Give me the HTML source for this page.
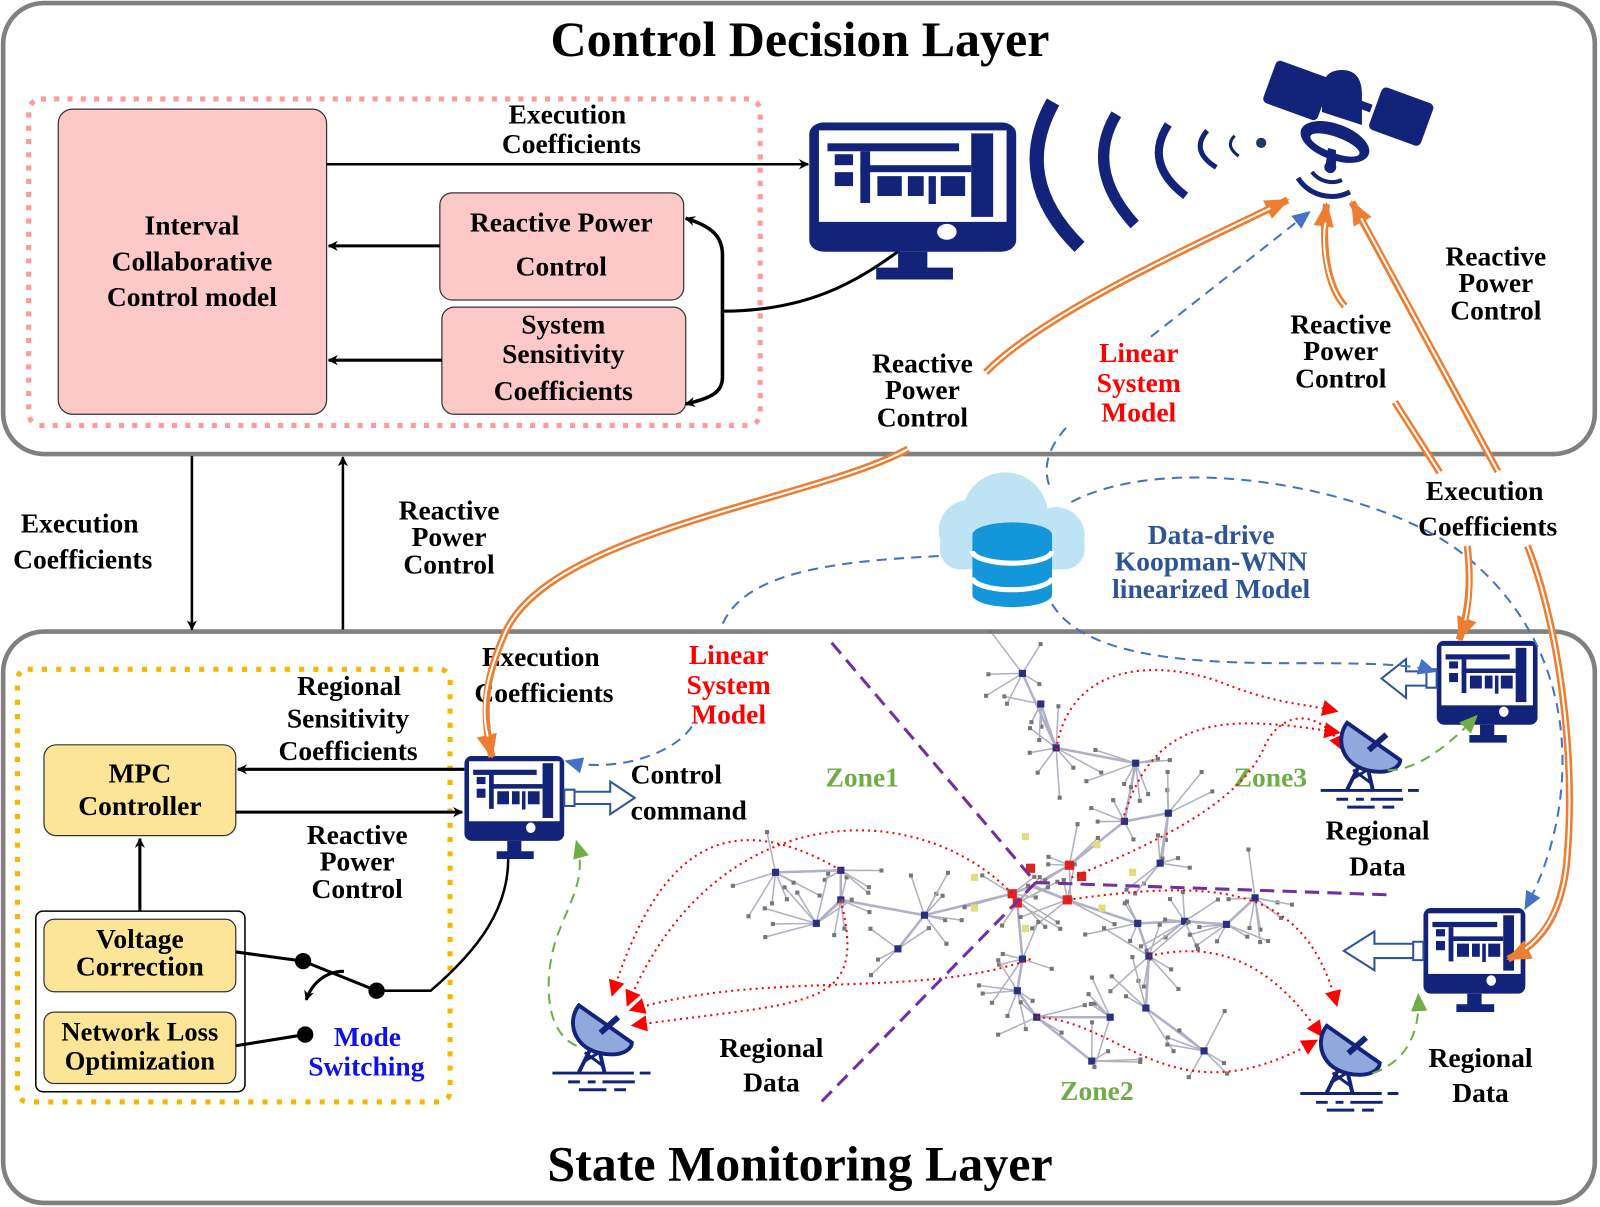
<!DOCTYPE html>
<html><head><meta charset="utf-8"><style>
html,body{margin:0;padding:0;background:#fff;}
svg{display:block;}
text{font-family:"Liberation Serif",serif;font-weight:bold;}
</style></head><body>
<svg id="s" width="1600" height="1207" viewBox="0 0 1568 1183" xmlns="http://www.w3.org/2000/svg">
<defs>
<marker id="ak" markerWidth="10" markerHeight="10" refX="9" refY="5" orient="auto-start-reverse" markerUnits="userSpaceOnUse" viewBox="0 0 10 10"><path d="M0,0 L10,5 L0,10 L3,5 z" fill="#000"/></marker>
<marker id="ao" markerWidth="24" markerHeight="24" refX="22" refY="12" orient="auto-start-reverse" markerUnits="userSpaceOnUse" viewBox="0 0 24 24"><path d="M0,2 L24,12 L0,22 z" fill="#ed7d31"/></marker>
<marker id="ab" markerWidth="18" markerHeight="18" refX="16" refY="9" orient="auto" markerUnits="userSpaceOnUse" viewBox="0 0 18 18"><path d="M0,1 L18,9 L0,17 z" fill="#4472c4"/></marker>
<marker id="ag" markerWidth="18" markerHeight="18" refX="16" refY="9" orient="auto" markerUnits="userSpaceOnUse" viewBox="0 0 18 18"><path d="M0,1 L18,9 L0,17 z" fill="#70ad47"/></marker>
<marker id="ar" markerWidth="16" markerHeight="16" refX="14" refY="8" orient="auto" markerUnits="userSpaceOnUse" viewBox="0 0 16 16"><path d="M0,0 L16,8 L0,16 z" fill="#f00"/></marker>
<symbol id="mon" viewBox="0 0 170 158" preserveAspectRatio="none">
<rect x="0" y="0" width="170" height="130" rx="12" fill="#14237a"/>
<rect x="8" y="8" width="154" height="92" fill="#fff"/>
<rect x="15" y="21" width="108" height="8" fill="#14237a"/>
<rect x="133" y="11" width="18" height="84" fill="#14237a"/>
<rect x="21" y="32" width="15" height="11" fill="#14237a"/>
<rect x="21" y="50" width="15" height="14" fill="#14237a"/>
<rect x="42" y="29" width="8" height="52" fill="#14237a"/>
<rect x="42" y="43" width="91" height="7" fill="#14237a"/>
<rect x="56" y="54" width="20" height="20" fill="#14237a"/>
<rect x="81" y="54" width="13" height="20" fill="#14237a"/>
<rect x="98" y="54" width="6" height="28" fill="#14237a"/>
<rect x="108" y="54" width="20" height="20" fill="#14237a"/>
<circle cx="113" cy="110" r="8" fill="#fff"/>
<rect x="73" y="130" width="24" height="18" fill="#14237a"/>
<rect x="55" y="146" width="63" height="12" fill="#14237a"/>
</symbol>
<symbol id="ant" viewBox="0 0 130 130">
<line x1="58" y1="82" x2="44" y2="110" stroke="#14237a" stroke-width="4"/>
<line x1="64" y1="84" x2="70" y2="110" stroke="#14237a" stroke-width="4"/>
<line x1="48" y1="100" x2="68" y2="88" stroke="#14237a" stroke-width="3"/>
<line x1="50" y1="90" x2="69" y2="104" stroke="#14237a" stroke-width="3"/>
<path d="M44,42 C30,60 40,92 78,92 C90,92 98,86 98,80 Z" fill="#8fa9dc" stroke="#14237a" stroke-width="4"/>
<line x1="44" y1="42" x2="98" y2="80" stroke="#14237a" stroke-width="3"/>
<line x1="66" y1="70" x2="84" y2="54" stroke="#14237a" stroke-width="6"/>
<line x1="17" y1="111" x2="100" y2="111" stroke="#14237a" stroke-width="3"/>
<line x1="106" y1="111" x2="117" y2="111" stroke="#14237a" stroke-width="3"/>
<path d="M33,120 h12 M53,120 h8 M68,120 h33" stroke="#14237a" stroke-width="3"/>
<path d="M44,128 h28 M80,128 h12" stroke="#14237a" stroke-width="3"/>
</symbol>
</defs>

<rect x="3" y="3" width="1560" height="442" rx="40" fill="none" stroke="#808080" stroke-width="4.5"/>
<rect x="3" y="619" width="1560" height="560" rx="40" fill="none" stroke="#808080" stroke-width="4.5"/>
<text x="784" y="55" font-size="49" text-anchor="middle">Control Decision Layer</text>
<text x="784" y="1157" font-size="49" text-anchor="middle">State Monitoring Layer</text>

<rect x="28" y="97" width="717" height="320" rx="12" fill="none" stroke="#ff9a9a" stroke-width="5" stroke-dasharray="5 8"/>
<rect x="57" y="107" width="263" height="299" rx="14" fill="#fcc8c8" stroke="#333" stroke-width="1.2"/>
<text font-size="27" text-anchor="middle"><tspan x="188" y="230">Interval</tspan><tspan x="188" y="265">Collaborative</tspan><tspan x="188" y="300">Control model</tspan></text>
<rect x="431" y="189" width="239" height="105" rx="12" fill="#fcc8c8" stroke="#333" stroke-width="1.2"/>
<text font-size="27" text-anchor="middle"><tspan x="550" y="227">Reactive Power</tspan><tspan x="550" y="270">Control</tspan></text>
<rect x="433" y="301" width="239" height="105" rx="12" fill="#fcc8c8" stroke="#333" stroke-width="1.2"/>
<text font-size="27" text-anchor="middle"><tspan x="552" y="327">System</tspan><tspan x="552" y="356">Sensitivity</tspan><tspan x="552" y="392">Coefficients</tspan></text>
<line x1="320" y1="161" x2="792" y2="161" stroke="#000" stroke-width="2.5" marker-end="url(#ak)"/>
<text font-size="27" text-anchor="middle"><tspan x="556" y="121">Execution</tspan><tspan x="560" y="150">Coefficients</tspan></text>
<line x1="431" y1="241" x2="322" y2="241" stroke="#000" stroke-width="3" marker-end="url(#ak)"/>
<line x1="433" y1="353" x2="322" y2="353" stroke="#000" stroke-width="3" marker-end="url(#ak)"/>
<path d="M672,214 C698,222 708,232 708,250 L708,370 C708,384 698,390 672,396" fill="none" stroke="#000" stroke-width="3.5" marker-start="url(#ak)" marker-end="url(#ak)"/>
<path d="M708,305 C800,305 850,270 898,233" fill="none" stroke="#000" stroke-width="3"/>

<use href="#mon" x="793" y="120" width="203" height="154"/>
<g fill="none" stroke="#14237a">
<path d="M1032,100 Q990,175 1058,242" stroke-width="14"/>
<path d="M1094,112 Q1062,165 1112,220" stroke-width="11"/>
<path d="M1145,122 Q1120,160 1162,192" stroke-width="8"/>
<path d="M1183,128 Q1166,148 1192,164" stroke-width="5"/>
<path d="M1210,133 Q1200,143 1214,153" stroke-width="3"/>
</g>
<circle cx="1236" cy="140" r="5" fill="#1f3864"/>
<g transform="scale(0.98)" fill="#14237a">
<rect x="1268" y="68" width="58" height="45" rx="5" transform="rotate(20 1297 90)"/>
<rect x="1374" y="94" width="55" height="45" rx="5" transform="rotate(20 1401 116)"/>
<path d="M1322,92 C1322,72 1335,70 1342,70 C1358,70 1362,82 1362,95 L1362,125 L1322,112 Z"/>
<rect x="1318" y="95" width="55" height="8" transform="rotate(20 1345 99)"/>
<ellipse cx="1335" cy="142" rx="36" ry="18" transform="rotate(20 1335 142)"/>
<ellipse cx="1335" cy="145" rx="26" ry="8" transform="rotate(20 1335 145)" fill="#fff"/>
<path d="M1328,148 L1336,150 L1336,165 A6,6 0 1 1 1326,163 Z"/>
<path d="M1298,178 A40,40 0 0 0 1350,192" fill="none" stroke="#14237a" stroke-width="5"/>
<path d="M1312,172 A25,25 0 0 0 1342,180" fill="none" stroke="#14237a" stroke-width="4"/>
</g>

<line x1="188" y1="447" x2="188" y2="617" stroke="#000" stroke-width="2.5" marker-end="url(#ak)"/>
<line x1="336" y1="617" x2="336" y2="448" stroke="#000" stroke-width="2.5" marker-end="url(#ak)"/>
<text font-size="27" text-anchor="middle"><tspan x="78" y="522">Execution</tspan><tspan x="81" y="557">Coefficients</tspan></text>
<text font-size="27" text-anchor="middle"><tspan x="440" y="509">Reactive</tspan><tspan x="440" y="535">Power</tspan><tspan x="440" y="562">Control</tspan></text>

<g fill="#bde3f5">
<circle cx="985" cy="505" r="42"/><circle cx="950" cy="520" r="30"/><circle cx="1035" cy="525" r="28"/>
<rect x="921" y="515" width="142" height="43" rx="20"/>
</g>
<path d="M953,525 L953,583 A39,12 0 0 0 1031,583 L1031,525 Z" fill="#1496da"/>
<ellipse cx="992" cy="524" rx="39" ry="12" fill="#1496da"/>
<path d="M953,540 A39,12 0 0 0 1031,540" fill="none" stroke="#fff" stroke-width="5"/>
<path d="M953,566 A39,12 0 0 0 1031,566" fill="none" stroke="#fff" stroke-width="5"/>
<text font-size="27" fill="#2f5597" text-anchor="middle"><tspan x="1187" y="533">Data-drive</tspan><tspan x="1187" y="559">Koopman-WNN</tspan><tspan x="1187" y="586">linearized Model</tspan></text>

<g id="net"></g>
<g stroke="#7030a0" stroke-width="3" stroke-dasharray="14 8" fill="none">
<line x1="815" y1="630" x2="1015" y2="865"/>
<line x1="1015" y1="865" x2="800" y2="1085"/>
<line x1="1015" y1="865" x2="1360" y2="877"/>
</g>
<text font-size="27" fill="#70ad47" text-anchor="middle" x="845" y="771">Zone1</text>
<text font-size="27" fill="#70ad47" text-anchor="middle" x="1245" y="771">Zone3</text>
<text font-size="27" fill="#70ad47" text-anchor="middle" x="1075" y="1078">Zone2</text>

<g fill="none" stroke="#f00" stroke-width="2" stroke-dasharray="2 4">
<path d="M1035,735 C1050,640 1150,650 1200,670 C1250,690 1280,690 1310,697" marker-end="url(#ar)"/>
<path d="M1100,805 C1130,700 1200,700 1312,718" marker-end="url(#ar)"/>
<path d="M1050,860 C1150,820 1220,780 1240,730 C1260,690 1300,700 1316,735" marker-end="url(#ar)"/>
<path d="M824,853 C700,780 640,850 600,975" marker-end="url(#ar)"/>
<path d="M992,876 C900,780 700,780 615,985" marker-end="url(#ar)"/>
<path d="M824,882 C850,990 800,980 620,1005" marker-end="url(#ar)"/>
<path d="M1010,940 C900,980 750,950 618,990" marker-end="url(#ar)"/>
<path d="M1046,882 C1200,860 1280,870 1310,985" marker-end="url(#ar)"/>
<path d="M1126,937 C1200,920 1250,950 1295,1015" marker-end="url(#ar)"/>
<path d="M1016,997 C1100,1000 1150,1100 1290,1020" marker-end="url(#ar)"/>
</g>

<use href="#ant" x="525" y="945" width="125" height="125"/>
<use href="#ant" x="1278" y="668" width="125" height="125"/>
<use href="#ant" x="1258" y="965" width="125" height="125"/>

<use href="#mon" x="455" y="741" width="98" height="101"/>
<use href="#mon" x="1408" y="628" width="99" height="100"/>
<use href="#mon" x="1395" y="890" width="100" height="102"/>
<path d="M553,774 h10 v16 h-10 z M563,776 h35 v-10 l24,16 l-24,16 v-10 h-35 z" fill="#fff" stroke="#2f5597" stroke-width="2"/>
<path d="M1408,656 h-10 v18 h10 z M1398,658 h-20 v-12 l-24,19 l24,19 v-12 h20 z" fill="#fff" stroke="#2f5597" stroke-width="2"/>
<path d="M1395,923 h-10 v18 h10 z M1385,925 h-38 v-12 l-30,19 l30,19 v-12 h38 z" fill="#fff" stroke="#2f5597" stroke-width="2"/>

<rect x="17" y="656" width="424" height="424" rx="10" fill="none" stroke="#f5b800" stroke-width="5" stroke-dasharray="5 9"/>
<rect x="43" y="730" width="188" height="89" rx="12" fill="#fde598" stroke="#333" stroke-width="1.2"/>
<text font-size="27" text-anchor="middle"><tspan x="137" y="767">MPC</tspan><tspan x="137" y="799">Controller</tspan></text>
<rect x="35" y="893" width="205" height="177" rx="7" fill="#fff" stroke="#000" stroke-width="1.5"/>
<rect x="43" y="901" width="188" height="71" rx="10" fill="#fde598" stroke="#333" stroke-width="1.2"/>
<text font-size="27" text-anchor="middle"><tspan x="137" y="929">Voltage</tspan><tspan x="137" y="956">Correction</tspan></text>
<rect x="43" y="992" width="188" height="70" rx="10" fill="#fde598" stroke="#333" stroke-width="1.2"/>
<text font-size="26" text-anchor="middle"><tspan x="137" y="1020">Network Loss</tspan><tspan x="137" y="1048">Optimization</tspan></text>
<line x1="137" y1="893" x2="137" y2="822" stroke="#000" stroke-width="3" marker-end="url(#ak)"/>
<line x1="455" y1="754" x2="233" y2="754" stroke="#000" stroke-width="3" marker-end="url(#ak)"/>
<line x1="231" y1="796" x2="453" y2="796" stroke="#000" stroke-width="3" marker-end="url(#ak)"/>
<text font-size="27" text-anchor="middle"><tspan x="342" y="681">Regional</tspan><tspan x="341" y="713">Sensitivity</tspan><tspan x="341" y="745">Coefficients</tspan></text>
<text font-size="27" text-anchor="middle"><tspan x="350" y="827">Reactive</tspan><tspan x="350" y="853">Power</tspan><tspan x="350" y="880">Control</tspan></text>
<line x1="231" y1="933" x2="297" y2="942" stroke="#000" stroke-width="3"/>
<line x1="231" y1="1025" x2="299" y2="1014" stroke="#000" stroke-width="3"/>
<line x1="297" y1="942" x2="369" y2="971" stroke="#000" stroke-width="3"/>
<circle cx="297" cy="942" r="8" fill="#000"/>
<circle cx="299" cy="1014" r="8" fill="#000"/>
<circle cx="369" cy="971" r="8" fill="#000"/>
<path d="M337,952 C318,952 305,965 300,980" fill="none" stroke="#000" stroke-width="3" marker-end="url(#ak)"/>
<path d="M369,971 L422,971 C470,930 498,890 498,842" fill="none" stroke="#000" stroke-width="2.5"/>
<text font-size="27" fill="#1010e8" text-anchor="middle"><tspan x="360" y="1025">Mode</tspan><tspan x="359" y="1054">Switching</tspan></text>

<text font-size="27" text-anchor="middle"><tspan x="530" y="653">Execution</tspan><tspan x="533" y="688">Coefficients</tspan></text>
<text font-size="27" fill="#f00" text-anchor="middle"><tspan x="714" y="651">Linear</tspan><tspan x="714" y="680">System</tspan><tspan x="714" y="709">Model</tspan></text>
<text font-size="27"><tspan x="618" y="768">Control</tspan><tspan x="618" y="803">command</tspan></text>
<text font-size="27" text-anchor="middle"><tspan x="756" y="1036">Regional</tspan><tspan x="756" y="1070">Data</tspan></text>
<text font-size="27" text-anchor="middle"><tspan x="1350" y="823">Regional</tspan><tspan x="1350" y="858">Data</tspan></text>
<text font-size="27" text-anchor="middle"><tspan x="1451" y="1046">Regional</tspan><tspan x="1451" y="1080">Data</tspan></text>
<text font-size="27" text-anchor="middle"><tspan x="904" y="365">Reactive</tspan><tspan x="904" y="391">Power</tspan><tspan x="904" y="418">Control</tspan></text>
<text font-size="27" fill="#f00" text-anchor="middle"><tspan x="1116" y="355">Linear</tspan><tspan x="1116" y="384">System</tspan><tspan x="1116" y="413">Model</tspan></text>
<text font-size="27" text-anchor="middle"><tspan x="1314" y="327">Reactive</tspan><tspan x="1314" y="353">Power</tspan><tspan x="1314" y="380">Control</tspan></text>
<text font-size="27" text-anchor="middle"><tspan x="1466" y="260">Reactive</tspan><tspan x="1466" y="286">Power</tspan><tspan x="1466" y="313">Control</tspan></text>
<text font-size="27" text-anchor="middle"><tspan x="1455" y="490">Execution</tspan><tspan x="1458" y="525">Coefficients</tspan></text>

<g fill="none" stroke="#4472c4" stroke-width="2" stroke-dasharray="10 7">
<path d="M1028,475 C1020,450 1035,430 1046,418"/>
<path d="M1128,330 L1283,208" marker-end="url(#ab)"/>
<path d="M1050,492 C1150,440 1350,480 1430,540 C1560,640 1545,800 1495,890" marker-end="url(#ab)"/>
<path d="M1031,592 C1060,640 1150,650 1260,650 C1330,650 1380,650 1406,658" marker-end="url(#ab)"/>
<path d="M920,545 C820,550 730,560 708,612"/>
<path d="M678,712 C660,740 600,758 555,746" marker-end="url(#ab)"/>
</g>
<g fill="none" stroke="#70ad47" stroke-width="2" stroke-dasharray="10 7">
<path d="M565,1025 C530,1010 535,950 545,920 C560,880 575,860 565,825" marker-end="url(#ag)"/>
<path d="M1360,755 C1390,755 1420,730 1447,702" marker-end="url(#ag)"/>
<path d="M1345,1052 C1380,1040 1392,1010 1390,975" marker-end="url(#ag)"/>
</g>

<g fill="none" stroke="#ed7d31" stroke-width="7">
<path d="M966,365 C1020,310 1150,250 1262,196" marker-end="url(#ao)"/>
<path d="M890,440 C800,490 540,520 495,620 C478,660 470,690 482,742" marker-end="url(#ao)"/>
<path d="M1318,300 C1300,280 1295,240 1300,200" marker-end="url(#ao)"/>
<path d="M1367,394 L1411,463"/>
<path d="M1438,535 C1442,570 1440,600 1430,627" marker-end="url(#ao)"/>
<path d="M1468,462 L1325,198" marker-end="url(#ao)"/>
<path d="M1497,535 C1530,620 1545,750 1535,850 C1528,900 1510,925 1478,940" marker-end="url(#ao)"/>
</g>
<g fill="none" stroke="#fff" stroke-width="2">
<path d="M966,365 C1020,310 1150,250 1245,204"/>
<path d="M890,440 C800,490 540,520 495,620 C478,660 470,690 478,722"/>
<path d="M1318,300 C1300,280 1295,240 1299,218"/>
<path d="M1367,394 L1411,463"/>
<path d="M1438,535 C1442,570 1440,590 1436,608"/>
<path d="M1468,462 L1334,214"/>
<path d="M1497,535 C1530,620 1545,750 1535,850 C1530,890 1515,915 1495,930"/>
</g>
</svg>
<script>
(function(){
var g=document.getElementById('net'),NS='http://www.w3.org/2000/svg';
var seed=7;function r(){seed=(seed*9301+49297)%233280;return seed/233280;}
function ln(a,b,c,d,col,w){var e=document.createElementNS(NS,'line');e.setAttribute('x1',a);e.setAttribute('y1',b);e.setAttribute('x2',c);e.setAttribute('y2',d);e.setAttribute('stroke',col);e.setAttribute('stroke-width',w);g.appendChild(e);}
function sq(x,y,s,col){var e=document.createElementNS(NS,'rect');e.setAttribute('x',x-s/2);e.setAttribute('y',y-s/2);e.setAttribute('width',s);e.setAttribute('height',s);e.setAttribute('fill',col);g.appendChild(e);}
var P={C:[1012,868],a:[1048,848],b:[1102,805],c:[1113,748],d:[1035,733],e:[1002,660],f:[1145,797],g:[1137,846],h:[992,876],i:[906,897],j:[824,882],k:[824,853],l:[760,855],m:[880,930],n:[800,905],o:[1046,882],p:[1115,905],q:[1161,903],r:[1202,906],s:[1230,880],t:[1126,937],u:[1123,988],v:[1180,1030],w:[997,885],x:[1002,940],y:[997,971],z:[1016,997],A:[1070,1040],B:[1088,997],D:[1020,690]};
var E=[['C','a'],['a','b'],['b','c'],['c','d'],['d','e'],['b','f'],['f','g'],['C','h'],['h','i'],['i','j'],['j','k'],['k','l'],['i','m'],['j','n'],['C','o'],['o','p'],['p','q'],['q','r'],['r','s'],['p','t'],['t','u'],['u','v'],['C','w'],['w','x'],['x','y'],['y','z'],['z','A'],['z','B'],['d','D']];
E.forEach(function(e){var a=P[e[0]],b=P[e[1]];ln(a[0],a[1],b[0],b[1],'#b0b0c8',2.5);});
Object.keys(P).forEach(function(k){if(k=='C')return;var h=P[k];var n=4+Math.floor(r()*5);for(var i=0;i<n;i++){var a=r()*6.283,l=18+r()*35;var x=h[0]+Math.cos(a)*l,y=h[1]+Math.sin(a)*l;ln(h[0],h[1],x,y,'#b0b0c0',1.5);sq(x,y,4,'#777');}sq(h[0],h[1],7,'#2a2f80');});
[[992,876],[1048,848],[1010,851],[1060,859],[1046,882],[997,885]].forEach(function(p){sq(p[0],p[1],9,'#d22');});
[[955,860],[955,890],[1005,820],[1075,828],[1110,855],[1005,910],[1080,890]].forEach(function(p){sq(p[0],p[1],7,'#dede80');});
})();
</script>
</body></html>
